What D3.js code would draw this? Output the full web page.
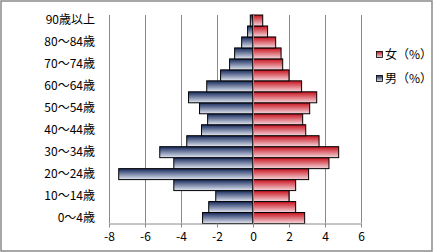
<!DOCTYPE html>
<html><head><meta charset="utf-8">
<script src="https://cdn.jsdelivr.net/npm/d3@7"></script>
<style>html,body{margin:0;padding:0;background:#fff;}svg{display:block;}</style>
</head><body>
<svg id="c" width="433" height="252"></svg>
<script>
const categories = ["0～4歳","5～9歳","10～14歳","15～19歳","20～24歳","25～29歳","30～34歳","35～39歳","40～44歳","45～49歳","50～54歳","55～59歳","60～64歳","65～69歳","70～74歳","75～79歳","80～84歳","85～89歳","90歳以上"];
const male = [-2.8,-2.46,-2.07,-4.4,-7.46,-4.4,-5.18,-3.68,-2.86,-2.52,-2.97,-3.58,-2.57,-1.8,-1.3,-1.02,-0.63,-0.3,-0.15];
const female = [2.87,2.37,2.0,2.37,3.09,4.22,4.76,3.67,2.93,2.76,3.15,3.54,2.7,2.0,1.65,1.56,1.26,0.81,0.54];
const xTicks = [-8,-6,-4,-2,0,2,4,6];
const seriesNames = ["女（%）","男（%）"];

const svg = d3.select("#c");
const font = "'MS PGothic','Noto Sans CJK JP',sans-serif";
const defs = svg.append("defs");
function grad(id, top, bottom){
  const g = defs.append("linearGradient").attr("id", id).attr("x1",0).attr("y1",0).attr("x2",0).attr("y2",1);
  g.append("stop").attr("offset","0%").attr("stop-color",top);
  g.append("stop").attr("offset","100%").attr("stop-color",bottom);
}
grad("gBlue","#14285a","#e2e7f3");
grad("gRed","#c8101c","#f5d8dd");

svg.append("rect").attr("x",1).attr("y",1).attr("width",431).attr("height",250)
  .attr("fill","#fff").attr("stroke","#8a8a8a").attr("stroke-width",1.5);

const x = d3.scaleLinear().domain([-8,6]).range([109,361]);
const y = d3.scaleBand().domain(categories.slice().reverse()).range([15,223.5]).paddingInner(0).paddingOuter(0);

// gridlines
svg.append("g").selectAll("line").data(xTicks).join("line")
  .attr("x1",d=>Math.round(x(d))+0.5).attr("x2",d=>Math.round(x(d))+0.5)
  .attr("y1",15).attr("y2",223)
  .attr("stroke","#8a8a8a").attr("stroke-width",1);

// bars
const rows = categories.map((c,i)=>({c, m:male[i], f:female[i]}));
svg.append("g").selectAll("rect").data(rows).join("rect")
  .attr("x",d=>x(d.m)).attr("width",d=>x(0)-x(d.m))
  .attr("y",d=>y(d.c)).attr("height",y.bandwidth())
  .attr("fill","url(#gBlue)").attr("stroke","#000").attr("stroke-width",1);
svg.append("g").selectAll("rect").data(rows).join("rect")
  .attr("x",x(0)).attr("width",d=>x(d.f)-x(0))
  .attr("y",d=>y(d.c)).attr("height",y.bandwidth())
  .attr("fill","url(#gRed)").attr("stroke","#000").attr("stroke-width",1);

// zero axis line
svg.append("line").attr("x1",Math.round(x(0))+0.5).attr("x2",Math.round(x(0))+0.5)
  .attr("y1",15).attr("y2",227).attr("stroke","#8a8a8a");

// x axis
const xAxis = d3.axisBottom(x).tickValues(xTicks).tickFormat(d=>String(d)).tickSize(4).tickSizeOuter(0);
const gx = svg.append("g").attr("transform","translate(0,223.5)").call(xAxis);
gx.select(".domain").attr("stroke","#8a8a8a");
gx.selectAll(".tick line").attr("stroke","#8a8a8a");
gx.selectAll("text").attr("font-family",font).attr("font-size",12).attr("fill","#000").attr("dy","0.95em").attr("y",6);

// y labels (every other)
const yAxis = d3.axisLeft(y).tickValues(categories.filter((c,i)=>i%2===0)).tickSize(0);
const gy = svg.append("g").attr("transform","translate(97,0)").call(yAxis);
gy.select(".domain").remove();
gy.selectAll("text").attr("font-family",font).attr("font-size",12).attr("fill","#000").attr("x",-2);

// legend
const lg = svg.append("g");
const leg = [{n:seriesNames[0], g:"url(#gRed)"},{n:seriesNames[1], g:"url(#gBlue)"}];
leg.forEach((d,i)=>{
  const yy = 51 + i*24;
  lg.append("rect").attr("x",376.5).attr("y",yy+0.5).attr("width",6).attr("height",6)
    .attr("fill",d.g).attr("stroke","#000").attr("stroke-width",0.8);
  lg.append("text").attr("x",385).attr("y",yy+3.5).attr("dy","0.35em")
    .attr("font-family",font).attr("font-size",12).text(d.n);
});
</script>
</body></html>
